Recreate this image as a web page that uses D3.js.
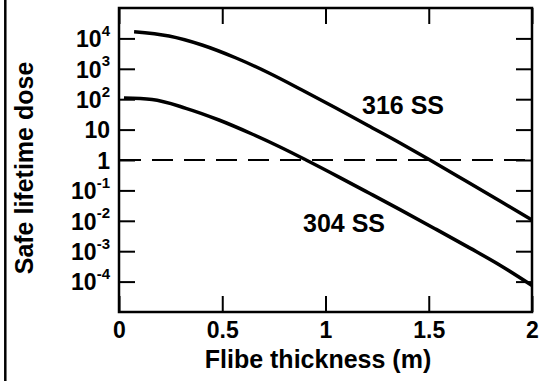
<!DOCTYPE html>
<html><head><meta charset="utf-8">
<script src="https://cdn.jsdelivr.net/npm/d3@7"></script>
<style>
html,body{margin:0;padding:0;background:#fff;}
svg text{font-family:"Liberation Sans",Arial,Helvetica,sans-serif;font-weight:bold;fill:#000;}
</style></head>
<body><svg id="c" width="539" height="381"></svg>
<script>
// Data
const thickness316 = [0.073, 0.242, 0.402, 0.567, 0.726, 0.886, 1.046, 1.206, 1.361, 1.506, 1.676, 1.845, 2.0];
const dose316      = [16600, 12000, 6070, 2265, 728, 201, 53.3, 13.6, 3.62, 1.0, 0.212, 0.0448, 0.0106];
const thickness304 = [0.024, 0.160, 0.324, 0.484, 0.644, 0.780, 0.906, 1.070, 1.215, 1.361, 1.530, 1.700, 1.845, 2.0];
const dose304      = [109, 97.8, 50.2, 20.7, 7.17, 2.68, 1.0, 0.264, 0.0791, 0.0233, 0.0055, 1.26e-3, 3.46e-4, 7.45e-5];
const limitDose = 1;
const xTicks = [0, 0.5, 1, 1.5, 2];
const xTickLabels = ["0", "0.5", "1", "1.5", "2"];
const yTicks = [1e4, 1e3, 1e2, 10, 1, 1e-1, 1e-2, 1e-3, 1e-4];
const yTickBase = ["10", "10", "10", "10", "1", "10", "10", "10", "10"];
const yTickExp  = ["4", "3", "2", "", "", "-1", "-2", "-3", "-4"];
const seriesLabels = ["316 SS", "304 SS"];

const svg = d3.select("#c");
const L = 119, R = 532, T = 8, B = 312;
const x = d3.scaleLinear().domain([0, 2]).range([L, R]);
const y = d3.scaleLog().domain([1e-5, 1e5]).range([B, T]);
const tick = 16;

// left page border
svg.append("line").attr("x1", 5.3).attr("x2", 5.3).attr("y1", 0).attr("y2", 381)
  .attr("stroke", "#000").attr("stroke-width", 2.5);

// axes
const gB = svg.append("g").attr("transform", `translate(0,${B})`)
  .call(d3.axisBottom(x).tickValues(xTicks).tickSize(-tick).tickPadding(6)
    .tickFormat((d, i) => xTickLabels[i]));
const gT = svg.append("g").attr("transform", `translate(0,${T})`)
  .call(d3.axisTop(x).tickValues(xTicks).tickSize(-tick).tickFormat(""));
const gL = svg.append("g").attr("transform", `translate(${L},0)`)
  .call(d3.axisLeft(y).tickValues(yTicks).tickSize(-tick).tickPadding(9).tickFormat(""));
const gR = svg.append("g").attr("transform", `translate(${R},0)`)
  .call(d3.axisRight(y).tickValues(yTicks).tickSize(-tick).tickFormat(""));
[gB, gT, gL, gR].forEach(g => {
  g.select(".domain").remove();
  g.selectAll(".tick line").attr("stroke", "#000").attr("stroke-width", 2);
});
gB.selectAll(".tick text").attr("font-size", 23).style("font-family", null).attr("dy", "0.85em");

// y tick labels with superscripts
gL.selectAll(".tick").each(function(d, i) {
  const t = d3.select(this).append("text")
    .attr("x", -9).attr("dy", "0.36em").attr("text-anchor", "end").attr("font-size", 23);
  t.append("tspan").text(yTickBase[i]);
  if (yTickExp[i]) t.append("tspan").attr("font-size", 15).attr("dy", "-0.75em").text(yTickExp[i]);
});

// frame
svg.append("rect").attr("x", L).attr("y", T).attr("width", R - L).attr("height", B - T)
  .attr("fill", "none").attr("stroke", "#000").attr("stroke-width", 2.5);

// dashed limit line
svg.append("line").attr("x1", x(0) + 1).attr("x2", x(2)).attr("y1", y(limitDose)).attr("y2", y(limitDose))
  .attr("stroke", "#000").attr("stroke-width", 2.2).attr("stroke-dasharray", "21,11");

// curves
const line = d3.line().x(d => x(d[0])).y(d => y(d[1])).curve(d3.curveMonotoneX);
[[thickness316, dose316], [thickness304, dose304]].forEach(([xs, ys]) => {
  svg.append("path").datum(xs.map((v, i) => [v, ys[i]])).attr("d", line)
    .attr("fill", "none").attr("stroke", "#000").attr("stroke-width", 3.5);
});

// curve labels
svg.append("text").attr("x", 362).attr("y", 114).attr("font-size", 25).text(seriesLabels[0]);
svg.append("text").attr("x", 303).attr("y", 232).attr("font-size", 25).text(seriesLabels[1]);

// axis titles
svg.append("text").attr("x", 318).attr("y", 368).attr("text-anchor", "middle").attr("font-size", 25)
  .text("Flibe thickness (m)");
svg.append("text").attr("transform", "translate(33,168) rotate(-90)").attr("text-anchor", "middle")
  .attr("font-size", 25).text("Safe lifetime dose");
</script></body></html>
